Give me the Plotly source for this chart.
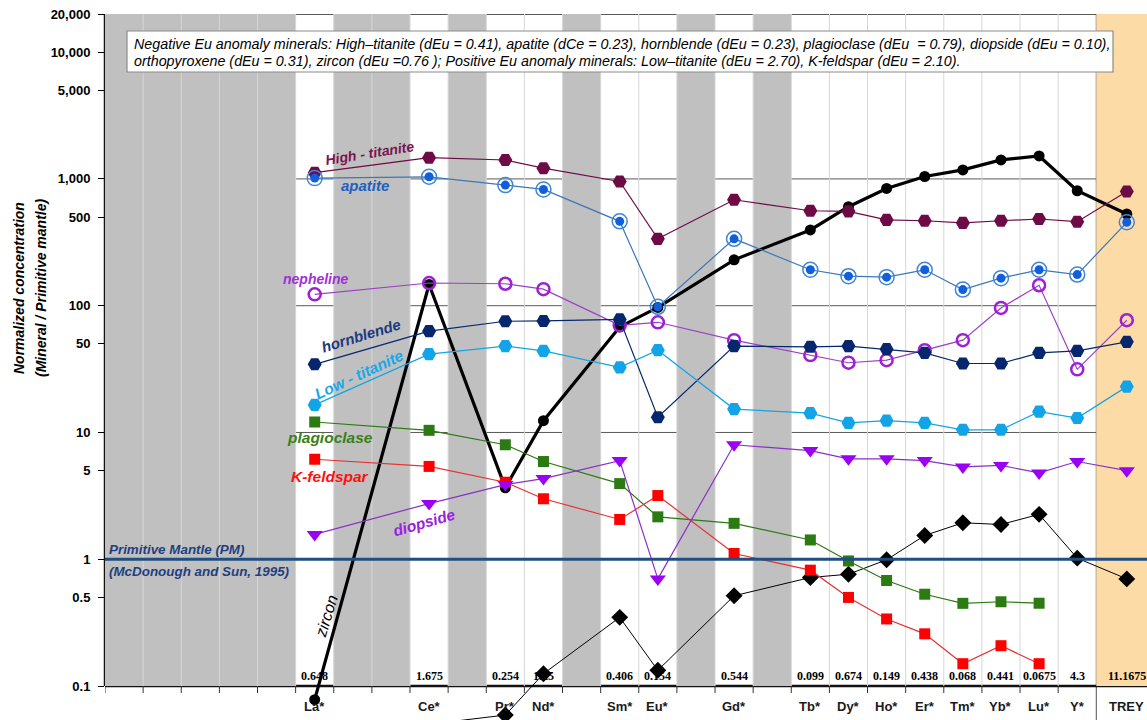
import plotly.graph_objects as go

# ---------------- data ----------------
ELEMENTS = ["La*", "Ce*", "Pr*", "Nd*", "Sm*", "Eu*", "Gd*", "Tb*", "Dy*", "Ho*",
            "Er*", "Tm*", "Yb*", "Lu*", "Y*", "TREY"]
PM_VALUES = ["0.648", "1.675", "0.254", "1.25", "0.406", "0.154", "0.544", "0.099",
             "0.674", "0.149", "0.438", "0.068", "0.441", "0.0675", "4.3", "11.1675"]

high_titanite = [1120, 1470, 1410, 1215, 955, 337, 685, 561, 555, 475, 468, 450, 468, 483, 460, 796]
apatite = [1015, 1040, 894, 826, 463, 98, 337, 192, 171, 168, 192, 134, 165, 192, 176, 455]
nepheline = [123, 151, 149, 135, 70, 74, 53.5, 40.8, 35.5, 37.2, 44.6, 53.5, 96, 145, 31.5, 76.8]
hornblende = [34.5, 63, 75.4, 75.8, 78, 13.2, 48, 47.4, 48, 45.4, 42.5, 35, 35, 42.5, 44, 51.9]
low_titanite = [16.5, 41.5, 48, 44, 32.6, 44.6, 15.3, 14.2, 11.9, 12.4, 11.9, 10.5, 10.5, 14.6, 13, 23]
plagioclase = [12.1, 10.4, 8.0, 5.9, 3.95, 2.16, 1.92, 1.42, 0.97, 0.68, 0.53, 0.449, 0.462, 0.45, None, None]
k_feldspar = [6.15, 5.4, 4.05, 3.0, 2.06, 3.18, 1.11, 0.82, 0.50, 0.338, 0.258, 0.150, 0.208, 0.150, None, None]
diopside = [1.57, 2.75, 3.88, 4.33, 6.0, 0.70, 8.0, 7.2, 6.2, 6.2, 6.0, 5.35, 5.5, 4.8, 5.9, 5.0]
zircon = [0.078, 147, 3.66, 12.4, 68, 97, 230, 396, 604, 841, 1045, 1178, 1413, 1518, 807, 529]
orthopyroxene = [None, 0.05, 0.059, 0.125, 0.348, 0.133, 0.515, 0.718, 0.762, 0.99, 1.54, 1.94, 1.88, 2.26, 1.02, 0.70]

Y_TICKS = [0.1, 0.5, 1, 5, 10, 50, 100, 500, 1000, 5000, 10000, 20000]
Y_TICKTEXT = ["0.1", "0.5", "1", "5", "10", "50", "100", "500", "1,000", "5,000", "10,000", "20,000"]

NOTE_LINE1 = ("Negative Eu anomaly minerals: High\u2013titanite (dEu = 0.41), apatite (dCe = 0.23), "
              "hornblende (dEu = 0.23), plagioclase (dEu  = 0.79), diopside (dEu = 0.10),")
NOTE_LINE2 = ("orthopyroxene (dEu = 0.31), zircon (dEu =0.76 ); Positive Eu anomaly minerals: "
              "Low\u2013titanite (dEu = 2.70), K-feldspar (dEu = 2.10).")

# ---------------- layout helpers ----------------
W, H = 1147, 720
PL, PR, PT, PB = 105, 1147, 14, 720
SLOT_X = [5, 8, 10, 11, 13, 14, 16, 18, 19, 20, 21, 22, 23, 24, 25, 26.3]
GREY_COLS = [(0, 4), (6, 7), (9, 9), (12, 12), (15, 15), (17, 17)]
X_RANGE = [-0.5, 26.83]
Y_RANGE = [-1.268, 4.30103]
Y_BOTTOM_AXIS = 0.1
Y_TOP = 20000
Y_TICK_END = 0.0881


def px(xp):
    return (xp - PL) / (PR - PL)


def py(yp):
    return (PB - yp) / (PB - PT)


FONT = "Liberation Sans, Arial, sans-serif"
SERIF = "Liberation Serif, Times New Roman, serif"

fig = go.Figure()


def add_series(name, vals, color, symbol, size, lw=1.2, mline=None, open_=False):
    marker = dict(symbol=symbol, size=size, color=color)
    if open_:
        marker["line"] = dict(width=2.5, color=color)
    else:
        marker["line"] = dict(width=0, color=color)
    fig.add_trace(go.Scatter(
        x=SLOT_X, y=vals, name=name, mode="lines+markers",
        line=dict(color=mline or color, width=lw), marker=marker,
        cliponaxis=False, showlegend=False))


add_series("zircon", zircon, "#000000", "circle", 11, lw=3.2)
add_series("orthopyroxene", orthopyroxene, "#000000", "diamond", 13, lw=1)
add_series("High - titanite", high_titanite, "#6e0a46", "hexagon2", 14, lw=1.2)
add_series("apatite", apatite, "#3f86d6", "circle-open", 15, lw=1.2, mline="#3a78b8", open_=True)
fig.data[-1].marker.line.width = 1.5
fig.add_trace(go.Scatter(x=SLOT_X, y=apatite, mode="markers",
                         marker=dict(symbol="circle", size=9, color="#0f5fe0"),
                         cliponaxis=False, showlegend=False))
add_series("nepheline", nepheline, "#9e1fd6", "circle-open", 12, lw=1.2, mline="#9a40c8", open_=True)
add_series("hornblende", hornblende, "#06276e", "hexagon2", 14, lw=1.2)
add_series("Low - titanite", low_titanite, "#12a4e6", "hexagon2", 14, lw=1.2)
add_series("plagioclase", plagioclase, "#2b7a12", "square", 11, lw=1.2)
add_series("K-feldspar", k_feldspar, "#ff0000", "square", 11, lw=1.2, mline="#e83030")
add_series("diopside", diopside, "#9a00f5", "triangle-down", 14, lw=1.2, mline="#8a30c8")

shapes = []
for a, b in GREY_COLS:
    shapes.append(dict(type="rect", xref="x", yref="y", x0=a - 0.5, x1=b + 0.5,
                       y0=Y_BOTTOM_AXIS, y1=Y_TOP, fillcolor="#c0c0c0",
                       line=dict(width=0), layer="below"))
shapes.append(dict(type="rect", xref="x", yref="y", x0=25.5, x1=X_RANGE[1],
                   y0=Y_BOTTOM_AXIS, y1=Y_TOP, fillcolor="#fcdba6",
                   line=dict(width=0), layer="below"))
for k in range(0, 25):
    shapes.append(dict(type="line", xref="x", yref="y", x0=k + 0.5, x1=k + 0.5,
                       y0=Y_BOTTOM_AXIS, y1=Y_TOP, line=dict(color="#d6d6d6", width=1),
                       layer="below"))
for g in [10, 100, 1000, 10000]:
    shapes.append(dict(type="line", xref="paper", yref="y", x0=0, x1=1, y0=g, y1=g,
                       line=dict(color="#5a5a5a", width=1), layer="below"))
shapes.append(dict(type="line", xref="x", yref="paper", x0=25.5, x1=25.5, y0=0,
                   y1=1, line=dict(color="#505050", width=1), layer="below"))
for k in range(-1, 25):
    shapes.append(dict(type="line", xref="x", yref="y", x0=k + 0.5, x1=k + 0.5,
                       y0=Y_TICK_END, y1=Y_BOTTOM_AXIS, line=dict(color="#333333", width=1),
                       layer="below"))
shapes.append(dict(type="line", xref="paper", yref="y", x0=0, x1=1, y0=Y_BOTTOM_AXIS,
                   y1=Y_BOTTOM_AXIS, line=dict(color="#111111", width=2.5), layer="below"))
shapes.append(dict(type="line", xref="paper", yref="y", x0=0, x1=0, y0=Y_BOTTOM_AXIS,
                   y1=Y_TOP, line=dict(color="#111111", width=2.5), layer="below"))
shapes.append(dict(type="line", xref="paper", yref="y", x0=0, x1=1, y0=Y_TOP,
                   y1=Y_TOP, line=dict(color="#222222", width=1.5), layer="below"))
shapes.append(dict(type="line", xref="paper", yref="y", x0=0, x1=1, y0=1, y1=1,
                   line=dict(color="#1f4e82", width=3), layer="above"))
shapes.append(dict(type="rect", xref="paper", yref="paper", x0=px(127), x1=px(1113),
                   y0=py(72), y1=py(31), fillcolor="white",
                   line=dict(color="#8a8a8a", width=1.2), layer="above"))

annotations = []
for xs, labt, val in zip(SLOT_X, ELEMENTS, PM_VALUES):
    annotations.append(dict(x=xs, y=py(706), xref="x", yref="paper", text=labt,
                            showarrow=False, xanchor="center", yanchor="middle",
                            font=dict(family=FONT, size=13, color="#1a1a1a", weight="bold")))
    annotations.append(dict(x=xs, y=py(676), xref="x", yref="paper", text=val,
                            showarrow=False, xanchor="center", yanchor="middle",
                            font=dict(family=SERIF, size=12, color="#000000", weight="bold")))


def lab(text, x, y, color, angle=0, size=13, weight="bold", style="italic"):
    annotations.append(dict(x=px(x), y=py(y), xref="paper", yref="paper", text=text,
                            showarrow=False, textangle=angle, xanchor="center",
                            yanchor="middle",
                            font=dict(family=FONT, size=size, color=color, weight=weight,
                                      style=style)))


lab("High - titanite", 370, 153, "#7a1452", -9, 14)
lab("apatite", 365, 186, "#2060c0", 0, 15)
lab("nepheline", 316, 279, "#a030d8", 0, 14)
lab("hornblende", 361, 335, "#1c3a80", -17, 15)
lab("Low - titanite", 359, 374, "#1aa8e8", -25, 15.5)
lab("plagioclase", 330, 437, "#3a8018", 0, 15.5)
lab("K-feldspar", 330, 476, "#ff1010", 0, 15.5)
lab("diopside", 424, 522, "#9a20e0", -16, 15.5)
lab("zircon", 326, 616, "#000000", -73, 16, weight="normal")

for t, yy in [("Primitive Mantle (PM)", 549), ("(McDonough and Sun, 1995)", 571)]:
    annotations.append(dict(x=px(107), y=py(yy), xref="paper", yref="paper",
                            text=t, showarrow=False, xanchor="left", yanchor="middle",
                            font=dict(family=FONT, size=13.4, color="#1f3f80", weight="bold",
                                      style="italic")))

for t, xx in [("Normalized concentration", 19), ("(Mineral / Primitive mantle)", 41)]:
    annotations.append(dict(x=px(xx), y=py(288), xref="paper", yref="paper",
                            text=t, showarrow=False, textangle=-90, xanchor="center",
                            yanchor="middle",
                            font=dict(family=FONT, size=14, color="#000000", weight="bold",
                                      style="italic")))

for t, yy in [(NOTE_LINE1, 44), (NOTE_LINE2, 61)]:
    annotations.append(dict(x=px(132), y=py(yy), xref="paper", yref="paper", text=t,
                            showarrow=False, xanchor="left", yanchor="middle",
                            font=dict(family=FONT, size=14.3, color="#000000", style="italic")))

fig.update_layout(
    width=W, height=H,
    margin=dict(l=PL, r=W - PR, t=PT, b=H - PB, pad=0),
    paper_bgcolor="white", plot_bgcolor="white",
    showlegend=False,
    shapes=shapes, annotations=annotations,
    xaxis=dict(range=X_RANGE, visible=False, fixedrange=True),
    yaxis=dict(type="log", range=Y_RANGE, tickvals=Y_TICKS, ticktext=Y_TICKTEXT,
               ticks="outside", ticklen=6, tickcolor="#000000", tickwidth=1.2,
               showgrid=False, zeroline=False, showline=False, ticklabelstandoff=5,
               tickfont=dict(family=FONT, size=13, color="#000000", weight="bold"),
               fixedrange=True),
)

fig.write_html("out.html", config={"displayModeBar": False},
               post_script="document.body.style.margin='0';document.body.style.overflow='hidden';")
